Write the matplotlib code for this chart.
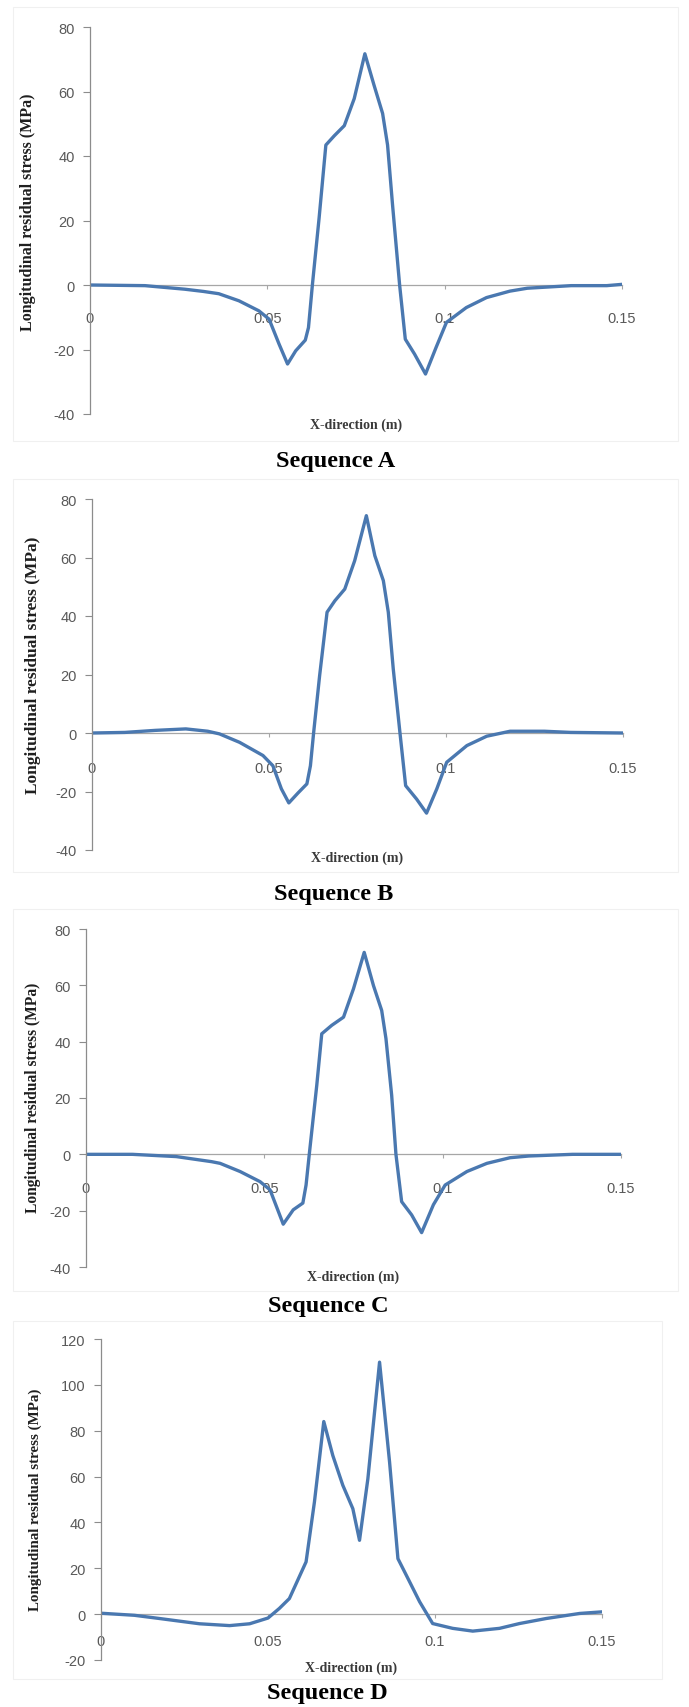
import numpy as np
import matplotlib
matplotlib.use("Agg")
import matplotlib.pyplot as plt
from matplotlib.patches import Rectangle

plt.rcParams['axes.unicode_minus'] = False

# --- data (x in m, stress in MPa) ---
xa = [0, 0.0155, 0.0267, 0.032, 0.0363, 0.042, 0.0476, 0.0505, 0.0533, 0.0557, 0.058,
      0.0607, 0.0616, 0.0627, 0.0646, 0.0665, 0.0689, 0.0717, 0.0745, 0.0775, 0.0801,
      0.0825, 0.0839, 0.0853, 0.0873, 0.0889, 0.0915, 0.0946, 0.0976, 0.1005, 0.1061,
      0.1118, 0.1184, 0.1233, 0.1357, 0.1457, 0.15]
ya = [0, -0.2, -1.3, -2.0, -2.7, -4.9, -8, -10.6, -18.3, -24.5, -20.4,
      -17.1, -13.2, 0, 20.8, 43.4, 46.3, 49.4, 57.8, 71.7, 61.9,
      53.2, 43.4, 24.9, 0, -16.8, -21.4, -27.6, -19.3, -11.6, -7,
      -3.9, -1.9, -1.0, -0.2, -0.2, 0.2]

xb = [0, 0.0093, 0.0179, 0.0265, 0.0327, 0.036, 0.0417, 0.0483, 0.0511, 0.0535, 0.0556,
      0.0582, 0.0607, 0.0617, 0.0626, 0.0643, 0.0664, 0.0686, 0.0714, 0.0742, 0.0775,
      0.0799, 0.0823, 0.0837, 0.0851, 0.087, 0.0886, 0.0917, 0.0945, 0.0974, 0.1002,
      0.1059, 0.1115, 0.1181, 0.1278, 0.1352, 0.15]
yb = [0, 0.2, 0.9, 1.4, 0.6, -0.3, -3.2, -7.7, -11.2, -19.1, -23.9,
      -20.5, -17.4, -11.2, 0, 19.6, 41.3, 45.2, 49.2, 58.9, 74.3,
      60.6, 52.1, 41.3, 21.9, 0, -18, -22.6, -27.4, -19.1, -10,
      -4.3, -1.1, 0.6, 0.6, 0.2, 0]

xc = [0, 0.013, 0.0253, 0.0352, 0.0376, 0.0432, 0.0488, 0.0516, 0.0553, 0.0581, 0.0608,
      0.0617, 0.0626, 0.0647, 0.0661, 0.0689, 0.0722, 0.075, 0.078, 0.0806, 0.0829,
      0.0841, 0.0857, 0.0869, 0.0885, 0.0913, 0.0941, 0.0974, 0.1007, 0.1068, 0.1124,
      0.1189, 0.1241, 0.1364, 0.15]
yc = [0, 0, -0.8, -2.6, -3.2, -6.1, -9.7, -12.6, -24.8, -19.7, -17.3,
      -10.9, 0, 24.5, 42.8, 45.8, 48.7, 58.8, 71.7, 59.9, 51.1,
      41.1, 21, 0, -16.8, -21.5, -27.8, -17.9, -10.9, -6.1, -3.2,
      -1.2, -0.6, 0, 0]

xd = [0, 0.01, 0.0175, 0.0295, 0.0385, 0.0445, 0.05, 0.0534, 0.0564, 0.0614, 0.0639,
      0.0667, 0.0694, 0.0724, 0.0754, 0.0774, 0.0799, 0.0834, 0.0864, 0.0889, 0.0914,
      0.0954, 0.0993, 0.1053, 0.1113, 0.1193, 0.1253, 0.1333, 0.1433, 0.15]
yd = [0.4, -0.5, -1.9, -4.2, -5.0, -4.2, -1.7, 2.5, 6.8, 22.8, 48.9,
      84, 69.2, 56.2, 46, 32.2, 59, 109.9, 66.3, 24.2, 17,
      5.4, -4.1, -6.2, -7.4, -6.2, -4.1, -1.9, 0.3, 1.0]

xticks = [0, 0.05, 0.1, 0.15]
xtick_labels = ['0', '0.05', '0.1', '0.15']
yticks_abc = [-40, -20, 0, 20, 40, 60, 80]
yticks_d = [-20, 0, 20, 40, 60, 80, 100, 120]
titles = ['Sequence A', 'Sequence B', 'Sequence C', 'Sequence D']
ylabel = 'Longitudinal residual stress (MPa)'
xlabel = 'X-direction (m)'

W, H = 689, 1708
fig = plt.figure(figsize=(W / 100, H / 100), dpi=100)

blue = '#4a78b0'
tickfont = ['Liberation Sans Narrow', 'Liberation Sans', 'DejaVu Sans']
serif = ['Liberation Serif', 'DejaVu Serif']

# pixel layout: axes box (l, t, r, b), frame box, ylabel (x, y, size), xlabel y, title (x, y), x label pad
panels = [
    dict(x=xa, y=ya, yt=yticks_abc, box=(90, 28, 622, 415), frame=(13, 8, 678, 442),
         yl=(28, 212, 11.5), xl=425, ti=(336, 462), pad=16),
    dict(x=xb, y=yb, yt=yticks_abc, box=(92, 500, 623, 851), frame=(13, 480, 678, 873),
         yl=(33, 665, 12.5), xl=858, ti=(334, 895), pad=17),
    dict(x=xc, y=yc, yt=yticks_abc, box=(86, 930, 621, 1268), frame=(13, 910, 678, 1292),
         yl=(33, 1098, 11.2), xl=1277, ti=(328, 1307), pad=16),
    dict(x=xd, y=yd, yt=yticks_d, box=(101, 1340, 602, 1661), frame=(13, 1322, 662, 1680),
         yl=(35, 1500, 10.8), xl=1668, ti=(327, 1694), pad=11),
]

for p, title in zip(panels, titles):
    l, t, r, b = p['box']
    ax = fig.add_axes([l / W, 1 - b / H, (r - l) / W, (b - t) / H])
    ax.plot(p['x'], p['y'], color=blue, lw=2.4, solid_joinstyle='round',
            solid_capstyle='round')
    ax.set_xlim(0, 0.15)
    ax.set_ylim(p['yt'][0], p['yt'][-1])
    ax.set_yticks(p['yt'])
    ax.set_yticklabels([str(v) for v in p['yt']])
    ax.set_xticks(xticks)
    ax.set_xticklabels(xtick_labels)
    for s in ['top', 'right']:
        ax.spines[s].set_visible(False)
    ax.spines['left'].set_color('#8c8c8c')
    ax.spines['left'].set_linewidth(0.9)
    ax.spines['bottom'].set_position(('data', 0))
    ax.spines['bottom'].set_color('#a6a6a6')
    ax.spines['bottom'].set_linewidth(0.9)
    ax.spines['bottom'].set_zorder(0)
    ax.tick_params(axis='y', direction='out', length=5, width=0.8, color='#8c8c8c',
                   pad=6, labelsize=10.5, labelcolor='#595959')
    ax.tick_params(axis='x', direction='out', length=3, width=0.8, color='#a6a6a6',
                   pad=p['pad'], labelsize=10.5, labelcolor='#595959')
    for lab in ax.get_xticklabels() + ax.get_yticklabels():
        lab.set_family(tickfont)
    ax.patch.set_alpha(0)

    fx, fy, fs = p['yl']
    fig.text(fx / W, 1 - fy / H, ylabel, rotation=90, ha='center', va='center',
             family=serif, weight='bold', size=fs, color='#1f1f1f')
    fig.text((l + r) / 2 / W, 1 - p['xl'] / H, xlabel, ha='center', va='center',
             family=serif, weight='bold', size=10, color='#3a3a3a')
    tx, ty = p['ti']
    fig.text(tx / W, 1 - ty / H, title, ha='center', va='center',
             family=serif, weight='bold', size=17.5, color='black')

    x0, y0, x1, y1 = p['frame']
    fig.patches.append(Rectangle((x0 / W, 1 - y1 / H), (x1 - x0) / W, (y1 - y0) / H,
                                 transform=fig.transFigure, fill=False,
                                 edgecolor='#f0f0f0', lw=0.8))

fig.savefig('out.png', dpi=100)
